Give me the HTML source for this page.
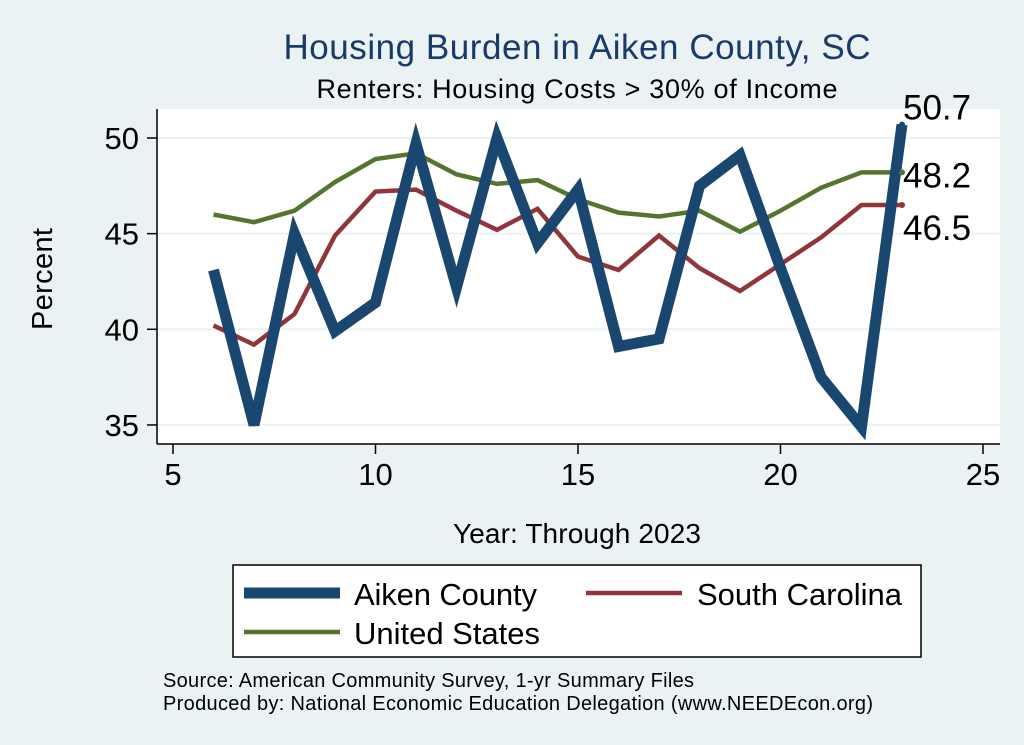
<!DOCTYPE html>
<html><head><meta charset="utf-8"><style>
body{margin:0;background:#eaf2f3;}
svg{display:block;font-family:"Liberation Sans",sans-serif;}
</style></head><body>
<svg width="1024" height="745" viewBox="0 0 1024 745">
<rect x="0" y="0" width="1024" height="745" fill="#eaf2f3"/>
<text x="577" y="59" text-anchor="middle" font-size="35" textLength="587" fill="#1a3a6a">Housing Burden in Aiken County, SC</text>
<text x="577" y="98" text-anchor="middle" font-size="27" textLength="521" fill="#000">Renters: Housing Costs &gt; 30% of Income</text>
<rect x="157" y="109" width="843" height="335" fill="#fff"/>
<g id="grid"></g>
<g id="axes"></g>
<g id="series"></g>
<g id="labels"></g>
<text x="52" y="279" text-anchor="middle" font-size="29" textLength="102" transform="rotate(-90 52 279)">Percent</text>
<text x="577" y="543" text-anchor="middle" font-size="28" textLength="248">Year: Through 2023</text>
<g>
<rect x="233" y="565" width="688" height="92" fill="#fff" stroke="#000" stroke-width="1.5"/>
<line x1="244" y1="593" x2="340" y2="593" stroke="#1a476f" stroke-width="11"/>
<text x="354" y="605" font-size="31" textLength="183">Aiken County</text>
<line x1="586" y1="593" x2="682" y2="593" stroke="#90353b" stroke-width="4.5"/>
<text x="697" y="605" font-size="31" textLength="205">South Carolina</text>
<line x1="244" y1="632" x2="340" y2="632" stroke="#55752f" stroke-width="4.5"/>
<text x="354" y="644" font-size="31" textLength="186">United States</text>
</g>
<text x="163" y="687" font-size="20" textLength="531">Source: American Community Survey, 1-yr Summary Files</text>
<text x="163" y="710" font-size="20" textLength="710">Produced by: National Economic Education Delegation (www.NEEDEcon.org)</text>
</svg>
<script>
const years=[6,7,8,9,10,11,12,13,14,15,16,17,18,19,20,21,22,23];
const aiken=[43.1,35.0,45.0,39.9,41.4,49.7,42.2,50.0,44.5,47.3,39.1,39.5,47.5,49.1,43.2,37.5,34.9,50.7];
const sc=[40.2,39.2,40.8,44.9,47.2,47.3,46.2,45.2,46.3,43.8,43.1,44.9,43.2,42.0,43.4,44.8,46.5,46.5];
const us=[46.0,45.6,46.2,47.7,48.9,49.2,48.1,47.6,47.8,46.8,46.1,45.9,46.2,45.1,46.2,47.4,48.2,48.2];
const xTicks=[5,10,15,20,25];
const yTicks=[35,40,45,50];
const endLabels=["50.7","48.2","46.5"];
const NS="http://www.w3.org/2000/svg";
const X=v=>173+(v-5)*40.5;
const Y=v=>138+(50-v)*19.13;
function mk(tag,attrs,parent){const e=document.createElementNS(NS,tag);for(const k in attrs)e.setAttribute(k,attrs[k]);document.getElementById(parent).appendChild(e);return e;}
yTicks.forEach(t=>{
 const g=mk('line',{x1:157,x2:1000,y1:Y(t),y2:Y(t),stroke:'#eaf2f3','stroke-width':2},'grid');
 
 
 const k=mk('line',{x1:147,x2:157,y1:Y(t),y2:Y(t),stroke:'#000','stroke-width':1.5},'axes');
 
 
 const l=mk('text',{x:139,y:Y(t)+11,'text-anchor':'end','font-size':31},'axes');
 l.textContent=t;
 
 
});
xTicks.forEach(t=>{
 const k=mk('line',{x1:X(t),x2:X(t),y1:444,y2:454,stroke:'#000','stroke-width':1.5},'axes');
 
 
 const l=mk('text',{x:X(t),y:485,'text-anchor':'middle','font-size':31},'axes');
 l.textContent=t;
 
 
});
const ya=mk('line',{x1:157,x2:157,y1:109,y2:444,stroke:'#000','stroke-width':1.5},'axes');


const xa=mk('line',{x1:157,x2:1000,y1:444,y2:444,stroke:'#000','stroke-width':1.5},'axes');


function line(vals,color,w,name){
 const p=mk('polyline',{points:vals.map((v,i)=>X(years[i])+','+Y(v)).join(' '),fill:'none',stroke:color,'stroke-width':w,'stroke-linejoin':'miter'},'series');
 
 
}
line(us,'#55752f',4.5,'line-united-states');
line(sc,'#90353b',4.5,'line-south-carolina');
line(aiken,'#1a476f',11,'line-aiken-county');
const last=years.length-1;
[[aiken,0,'#1a476f',-5],[us,1,'#55752f',15],[sc,2,'#90353b',35]].forEach(([arr,i,c,dy])=>{
 const d=mk('circle',{cx:X(years[last]),cy:Y(arr[last]),r:3,fill:c},'labels');
 
 
 const t=mk('text',{x:X(years[last])+1,y:Y(arr[last])+dy,'font-size':35},'labels');
 t.textContent=endLabels[i];
 
 
});
</script>
</body></html>
